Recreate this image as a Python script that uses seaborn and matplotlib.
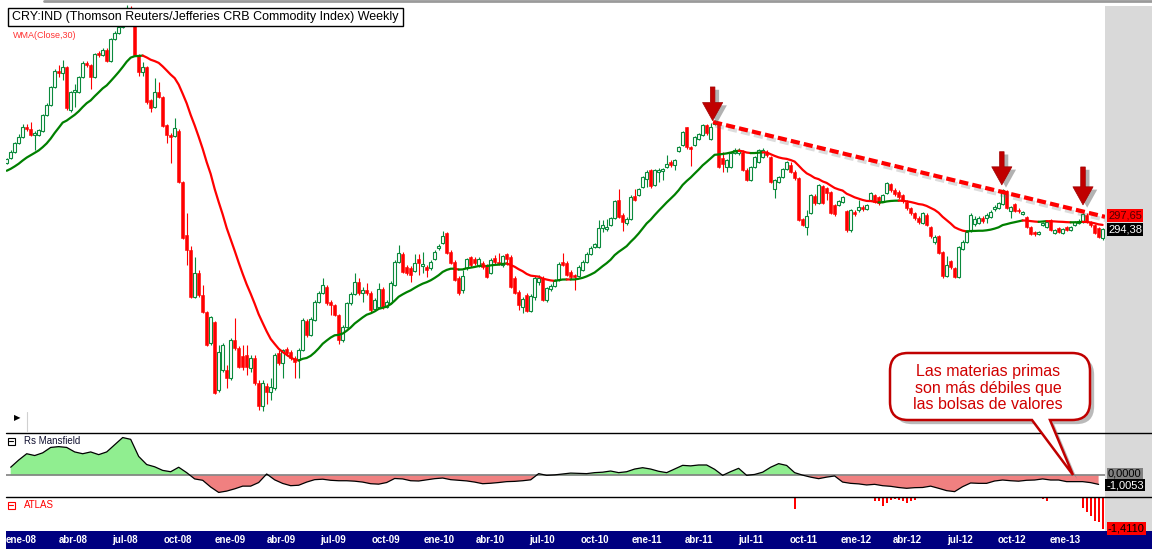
import numpy as np
import pandas as pd
import matplotlib
matplotlib.use("Agg")
import matplotlib.pyplot as plt
import matplotlib.dates as mdates
import matplotlib.patheffects as pe
from matplotlib.patches import Rectangle, PathPatch
from matplotlib.path import Path
from matplotlib.lines import Line2D
from matplotlib.ticker import NullLocator
import seaborn as sns

# ---------------------------------------------------------------- data
first_bar = "2007-12-07"          # weekly bars (Fridays)

# 29 weekly closes before the first bar (only used to seed the WMA(30))
pre_close = [310, 312, 315, 313, 316, 318, 320, 316, 312, 308,
             300, 298, 305, 310, 315, 320, 325, 330, 332, 335,
             338, 342, 345, 350, 355, 352, 348, 345, 342]

open_ = [
    338.9, 342.5, 346.9, 353.7, 358.2, 365.9, 364.4, 359.8, 359.8, 362.8,
    375.4, 383.5, 398.5, 412.3, 410.6, 415.9, 379.4, 394.2, 394.2, 407.0,
    419.4, 417.7, 407.0, 428.5, 426.7, 431.2, 421.2, 441.4, 447.1, 452.8,
    462.6, 471.6, 457.7, 426.7, 411.4, 415.9, 387.6, 381.9, 394.2, 390.1,
    367.5, 359.8, 359.0, 362.8, 325.4, 290.7, 281.6, 254.7, 268.1, 255.8,
    246.7, 230.9, 241.5, 208.9, 218.0, 218.0, 214.3, 232.4, 228.5, 224.6,
    225.0, 218.9, 223.6, 212.1, 201.7, 210.7, 208.0, 209.8, 226.0, 221.2,
    228.0, 226.5, 223.6, 222.6, 227.5, 242.0, 234.9, 242.5, 251.9, 256.8,
    260.2, 251.9, 250.4, 245.1, 232.4, 238.9, 251.4, 256.3, 263.0, 256.8,
    258.5, 256.8, 248.2, 249.3, 259.1, 249.3, 251.4, 261.3, 274.4, 279.2,
    271.5, 270.9, 269.2, 276.1, 272.1, 271.5, 270.9, 276.1, 282.8, 285.8,
    291.9, 280.4, 274.4, 265.2, 258.5, 270.9, 277.3, 276.1, 272.6, 273.8,
    272.6, 268.1, 276.7, 274.4, 272.6, 279.2, 277.3, 265.2, 257.4, 249.3,
    255.8, 247.2, 254.7, 263.0, 265.2, 253.0, 259.1, 260.7, 264.1, 274.4,
    273.8, 268.7, 267.0, 266.4, 269.8, 274.4, 279.2, 283.4, 283.4, 295.0,
    294.4, 296.9, 301.4, 313.2, 303.4, 298.2, 300.7, 315.9, 316.6, 322.0,
    327.5, 333.9, 323.4, 332.5, 333.2, 336.0, 339.6, 337.5, 347.7, 352.1,
    365.9, 350.6, 352.1, 356.7, 359.8, 367.5, 356.7, 368.3, 368.3, 342.5,
    336.0, 336.0, 346.2, 346.2, 346.9, 333.9, 326.8, 336.0, 339.6, 343.2,
    346.9, 343.2, 320.7, 325.4, 329.0, 334.6, 337.5, 332.5, 328.2, 300.7,
    295.6, 304.7, 315.9, 311.2, 322.7, 321.4, 318.6, 309.9, 309.9, 311.9,
    306.0, 293.8, 305.3, 306.6, 308.6, 307.3, 313.2, 316.6, 315.2, 312.5,
    318.0, 324.1, 320.0, 318.6, 316.6, 311.9, 307.9, 304.7, 301.4, 298.2,
    303.4, 295.6, 286.4, 290.1, 280.4, 266.4, 274.9, 270.9, 265.9, 282.2,
    286.4, 293.2, 297.5, 298.2, 301.4, 301.4, 302.0, 307.3, 307.9, 310.6,
    319.3, 306.0, 310.6, 306.6, 304.0, 302.0, 295.6, 292.6, 291.3, 296.9,
    295.6, 300.1, 291.9, 295.0, 291.9, 295.6, 293.8, 296.9, 298.2, 298.8,
    303.4, 298.8, 296.9, 295.0, 288.8]

high = [
    342.5, 348.4, 354.4, 360.5, 368.3, 368.3, 369.8, 362.8, 364.4, 376.2,
    385.1, 399.3, 414.1, 417.7, 422.1, 416.8, 395.1, 400.9, 407.9, 421.2,
    421.2, 418.5, 428.5, 430.3, 433.1, 433.1, 442.4, 449.0, 454.8, 465.6,
    474.7, 473.6, 461.6, 427.6, 420.3, 416.8, 388.4, 406.2, 402.7, 390.9,
    368.3, 361.3, 373.0, 364.4, 326.1, 304.7, 284.0, 277.3, 269.8, 261.3,
    247.2, 244.6, 242.0, 229.9, 230.9, 220.3, 233.4, 243.5, 229.5, 229.9,
    229.9, 225.0, 225.0, 213.4, 213.4, 212.1, 214.3, 226.0, 227.5, 228.0,
    229.0, 227.5, 224.6, 228.5, 243.5, 243.0, 244.1, 253.0, 257.9, 265.2,
    261.3, 253.0, 250.9, 245.6, 239.9, 251.9, 257.4, 268.1, 265.2, 260.2,
    262.4, 257.9, 254.1, 262.4, 260.2, 253.0, 263.5, 275.5, 284.6, 280.4,
    272.6, 272.1, 279.2, 279.2, 280.4, 272.6, 275.5, 281.6, 285.2, 293.2,
    292.6, 281.6, 275.5, 266.4, 269.8, 276.7, 277.9, 277.3, 277.3, 274.9,
    273.2, 276.7, 278.5, 279.8, 278.5, 279.8, 278.5, 266.4, 258.5, 254.7,
    256.8, 256.3, 266.4, 267.0, 266.4, 260.2, 261.8, 264.7, 274.4, 279.8,
    274.9, 269.8, 267.5, 272.6, 275.5, 280.4, 284.0, 285.8, 300.1, 300.1,
    300.7, 302.0, 313.2, 320.7, 304.7, 302.0, 316.6, 320.7, 321.4, 329.7,
    333.9, 334.6, 334.6, 335.3, 335.3, 344.7, 341.0, 341.7, 351.4, 362.8,
    365.9, 351.4, 359.0, 361.3, 368.3, 368.3, 369.0, 371.4, 369.0, 346.9,
    341.7, 346.9, 349.9, 349.9, 348.4, 335.3, 336.7, 344.0, 349.1, 349.9,
    348.4, 344.0, 327.5, 329.7, 335.3, 340.3, 339.6, 333.9, 329.0, 301.4,
    306.6, 317.3, 317.3, 324.1, 323.4, 322.0, 319.3, 310.6, 313.2, 315.9,
    306.6, 307.3, 306.6, 313.2, 309.9, 310.6, 318.6, 317.3, 315.9, 317.3,
    325.4, 324.8, 321.4, 320.0, 317.3, 313.2, 308.6, 305.3, 302.7, 305.3,
    304.7, 296.3, 290.7, 290.7, 281.0, 277.9, 275.5, 271.5, 284.0, 287.6,
    293.8, 304.7, 302.7, 302.7, 302.7, 304.7, 306.6, 309.9, 311.9, 320.7,
    320.0, 309.3, 311.2, 307.9, 306.0, 302.7, 296.3, 293.2, 293.2, 298.8,
    299.5, 300.7, 294.4, 295.6, 295.0, 296.3, 296.3, 299.5, 300.7, 304.7,
    304.7, 299.5, 297.5, 295.6, 295.0]

low = [
    338.2, 341.7, 346.2, 352.9, 357.4, 362.8, 359.0, 348.4, 359.0, 362.1,
    374.6, 382.7, 397.6, 407.0, 404.4, 379.4, 377.8, 381.9, 393.4, 406.2,
    415.9, 396.8, 406.2, 424.8, 425.7, 420.3, 420.3, 440.5, 446.1, 451.8,
    461.6, 457.7, 425.7, 407.9, 407.9, 384.3, 377.8, 381.0, 389.3, 365.9,
    353.7, 338.9, 358.2, 324.8, 288.2, 272.6, 254.1, 254.1, 254.7, 246.1,
    229.5, 229.9, 207.1, 208.0, 217.1, 209.8, 213.4, 227.5, 218.9, 218.0,
    215.7, 217.1, 211.2, 200.1, 199.7, 202.7, 204.4, 208.9, 220.3, 214.3,
    224.6, 222.6, 214.3, 214.3, 227.0, 233.9, 234.4, 242.0, 251.4, 256.3,
    250.4, 245.1, 244.6, 230.4, 231.4, 238.4, 250.4, 255.8, 255.8, 251.9,
    255.8, 246.1, 247.2, 248.8, 248.2, 248.8, 250.9, 260.7, 273.8, 268.1,
    267.0, 263.0, 268.7, 267.0, 268.1, 265.9, 269.8, 275.5, 281.6, 285.2,
    279.2, 273.2, 263.5, 255.8, 256.8, 269.8, 271.5, 272.6, 271.5, 270.4,
    265.2, 267.5, 273.2, 272.6, 271.5, 272.6, 259.6, 256.3, 247.7, 246.1,
    246.7, 246.7, 253.0, 261.3, 252.5, 251.9, 258.0, 260.2, 263.5, 272.1,
    266.4, 264.7, 258.5, 265.9, 269.2, 273.8, 278.5, 282.8, 282.8, 292.6,
    293.2, 296.3, 300.7, 301.4, 293.2, 296.9, 300.1, 312.5, 315.9, 321.4,
    322.0, 321.4, 322.7, 325.4, 326.8, 335.3, 336.0, 333.9, 346.9, 351.4,
    349.1, 336.7, 351.4, 355.9, 359.0, 359.8, 355.9, 367.5, 335.3, 332.5,
    332.5, 335.3, 345.4, 344.7, 333.2, 326.1, 326.1, 335.3, 338.9, 342.5,
    343.2, 324.8, 314.6, 324.8, 328.2, 333.9, 331.8, 326.8, 299.5, 296.3,
    290.7, 304.0, 309.9, 310.6, 310.6, 313.2, 304.0, 302.7, 309.3, 311.2,
    292.6, 292.6, 302.7, 305.3, 306.0, 306.6, 312.5, 311.2, 309.9, 311.9,
    317.3, 318.6, 315.9, 313.9, 311.2, 306.6, 303.4, 300.1, 297.5, 297.5,
    296.3, 288.8, 285.2, 279.2, 265.2, 265.9, 270.4, 265.2, 265.2, 281.6,
    285.8, 292.6, 296.3, 297.5, 298.2, 298.2, 301.4, 306.0, 307.3, 309.9,
    307.3, 301.4, 305.3, 304.7, 303.4, 295.0, 290.7, 290.1, 290.7, 296.3,
    295.0, 293.2, 291.3, 291.9, 291.3, 293.2, 293.2, 296.3, 297.5, 298.2,
    298.2, 295.6, 291.3, 288.8, 287.6]

close = [
    341.7, 346.9, 353.7, 358.2, 365.9, 364.4, 359.8, 361.3, 363.6, 375.4,
    383.5, 398.5, 412.3, 410.6, 415.9, 381.0, 394.2, 395.9, 407.0, 419.4,
    417.7, 407.0, 427.6, 426.7, 431.2, 421.2, 441.4, 447.1, 452.8, 462.6,
    471.6, 459.6, 426.7, 411.4, 415.9, 386.0, 381.0, 394.2, 390.1, 366.7,
    359.8, 358.2, 365.2, 325.4, 288.8, 281.6, 254.7, 268.1, 255.8, 246.7,
    229.9, 244.1, 207.6, 226.5, 229.9, 214.3, 232.4, 228.5, 219.4, 219.4,
    219.4, 223.6, 212.1, 201.7, 212.1, 208.0, 210.2, 225.0, 221.2, 227.5,
    226.0, 223.6, 221.7, 227.5, 242.5, 234.9, 243.0, 251.9, 256.8, 261.3,
    251.4, 250.4, 245.1, 232.4, 238.9, 251.4, 256.3, 263.0, 256.8, 258.5,
    256.8, 247.7, 253.0, 259.1, 249.3, 251.9, 262.4, 274.4, 279.8, 268.7,
    268.1, 267.0, 273.8, 273.8, 273.2, 269.8, 274.4, 280.4, 284.0, 290.1,
    279.8, 273.8, 264.1, 256.8, 266.4, 276.1, 272.6, 273.8, 276.1, 271.5,
    265.9, 275.5, 274.4, 273.2, 277.9, 276.1, 260.2, 256.8, 250.4, 253.5,
    247.2, 255.2, 265.2, 265.2, 253.0, 259.6, 260.7, 264.1, 273.2, 272.6,
    267.0, 265.9, 265.9, 271.5, 274.4, 279.2, 282.8, 285.2, 295.0, 296.9,
    295.6, 301.4, 312.5, 302.0, 298.8, 300.7, 315.2, 313.2, 320.7, 329.0,
    332.5, 322.7, 333.9, 333.9, 334.6, 338.2, 337.5, 341.0, 350.6, 362.1,
    350.6, 349.1, 358.2, 360.5, 367.5, 361.3, 365.9, 369.8, 336.0, 338.2,
    341.0, 346.2, 348.4, 348.4, 333.9, 326.8, 336.0, 343.2, 348.4, 348.4,
    344.7, 325.4, 326.8, 329.0, 334.6, 339.6, 332.5, 328.2, 300.1, 296.9,
    302.7, 316.6, 311.2, 323.4, 311.2, 318.0, 304.7, 304.0, 312.5, 315.2,
    293.8, 306.6, 304.0, 308.6, 307.3, 309.9, 318.0, 311.9, 311.2, 316.6,
    324.8, 320.0, 317.3, 315.2, 312.5, 307.9, 304.7, 301.4, 298.8, 304.7,
    296.9, 290.1, 289.5, 279.8, 266.4, 272.6, 271.5, 265.9, 283.4, 286.4,
    292.6, 303.4, 300.7, 301.4, 299.5, 303.4, 305.3, 308.6, 311.2, 320.0,
    307.9, 308.6, 306.0, 306.0, 305.3, 295.6, 291.3, 291.3, 292.6, 298.2,
    298.8, 293.8, 293.8, 292.6, 294.4, 293.8, 295.6, 298.8, 299.5, 304.0,
    298.8, 296.9, 291.9, 289.5, 294.38]

wma_last_value = 297.65

# Rs Mansfield, one reading every two weeks (bars 1, 3, 5, ...)
rs_values = [
    0.9, 1.7, 2.4, 2.2, 2.5, 3.1, 3.19, 3.1, 2.6, 2.4,
    2.6, 2.3, 2.6, 3.4, 4.2, 4.0, 2.1, 1.2, 0.95, 0.55,
    0.4, 0.9, 0.3, -0.4, -0.55, -1.3, -1.9, -1.75, -1.5, -1.2,
    -1.2, -0.8, 0.15, -0.5, -0.9, -1.15, -1.1, -0.75, -0.48, -0.43,
    -0.55, -0.6, -0.6, -0.65, -0.75, -0.93, -0.98, -0.8, -0.35, -0.4,
    -0.6, -0.63, -0.5, -0.37, -0.3, -0.48, -0.55, -0.62, -0.75, -0.93,
    -0.88, -0.8, -0.7, -0.67, -0.6, -0.5, 0.19, 0.0, 0.05, 0.15,
    0.25, 0.22, 0.19, 0.3, 0.35, 0.48, 0.3, 0.4, 0.7, 0.85,
    0.7, 0.45, 0.3, 0.7, 1.11, 1.05, 1.15, 1.15, 0.67, 0.0,
    0.41, 0.78, 0.0, 0.1, 0.35, 0.9, 1.3, 1.1, 0.3, 0.02,
    -0.2, -0.37, -0.2, -0.07, -0.75, -0.89, -0.95, -1.07, -1.0, -1.15,
    -1.22, -1.35, -1.44, -1.37, -1.35, -1.2, -1.44, -1.70, -1.81, -1.26,
    -0.85, -0.89, -0.89, -0.63, -0.52, -0.6, -0.65, -0.55, -0.52, -0.4,
    -0.52, -0.52, -0.70, -0.70, -0.70, -0.81, -1.0053]

# ATLAS (sparse: bar index -> value)
atlas_weeks = [115, 116, 117, 118, 119, 197,
               217, 218, 219, 220, 221, 222, 223, 224, 225, 226, 227,
               259, 260, 269, 270, 271, 272, 273, 274]
atlas_values = [-0.03, -0.03, -0.03, -0.03, -0.03, -0.53,
                -0.16, -0.16, -0.39, -0.24, -0.12, -0.09, -0.12, -0.16, -0.24, -0.16, -0.12,
                -0.07, -0.16, -0.46, -0.64, -0.83, -1.04, -1.12, -1.411]

month_names = {1: "ene", 4: "abr", 7: "jul", 10: "oct"}

# annotations (bar index, price)
trend_weeks = [176.6, 274.6]
trend_prices = [369.8, 302.1]
arrow_weeks = [176.5, 248.8, 269.1]
arrow_tips = [370.9, 323.4, 309.9]
arrow_tops = [398.5, 347.1, 336.0]

title = "CRY:IND (Thomson Reuters/Jefferies CRB Commodity Index) Weekly"
callout = "Las materias primas\nson más débiles que\nlas bolsas de valores"

# ---------------------------------------------------------------- style
sns.set_theme(style="white")
plt.rcParams["font.family"] = ["Liberation Sans", "DejaVu Sans"]

W, H = 1152, 549
fig = plt.figure(figsize=(W / 100, H / 100), dpi=100, facecolor="white")


def fx(x):
    return x / W


def fy(y):
    return 1 - y / H


L, R = 6, 1105
aw = (R - L) / W
ax_p = fig.add_axes([fx(L), fy(433.3), aw, 433.3 / H])
ax_rs = fig.add_axes([fx(L), fy(497.3), aw, (497.3 - 433.3) / H])
ax_at = fig.add_axes([fx(L), fy(531), aw, (531 - 497.3) / H])
ax_dt = fig.add_axes([fx(L), 0, aw, (549 - 531) / H])

dates = pd.date_range(first_bar, periods=len(close), freq="7D")
xnum = mdates.date2num(dates.to_pydatetime())
x0 = xnum[0]
xlim = (x0 - 0.175 * 7, x0 + 274.6 * 7)

GREEN = "#0a8a3c"
WGREEN = "#008000"
RED = "#ff0000"

# ---------------------------------------------------------------- price panel
ax_p.set_yscale("log")
o = np.array(open_)
c = np.array(close)
hi = np.maximum(np.array(high), np.maximum(o, c))
lo = np.minimum(np.array(low), np.minimum(o, c))
up = c >= o
blo = np.minimum(o, c)
bhi = np.maximum(o, c)

ax_p.vlines(xnum[up], lo[up], hi[up], color=GREEN, lw=0.8, zorder=2)
ax_p.vlines(xnum[~up], lo[~up], hi[~up], color=RED, lw=0.8, zorder=2)
ax_p.bar(xnum[up], bhi[up] - blo[up], bottom=blo[up], width=4.3,
         facecolor="white", edgecolor=GREEN, linewidth=0.8, zorder=3)
ax_p.bar(xnum[~up], bhi[~up] - blo[~up], bottom=blo[~up], width=5.2,
         facecolor=RED, edgecolor=RED, linewidth=0.4, zorder=3)

# WMA(Close,30)
allc = np.array(pre_close + close, dtype=float)
wts = np.arange(1, 31, dtype=float)
wma = np.array([np.dot(allc[k:k + 30], wts) / wts.sum() for k in range(len(close))])
seg_up = np.diff(wma) >= 0
start = 0
for i in range(1, len(seg_up) + 1):
    if i == len(seg_up) or seg_up[i] != seg_up[start]:
        idx = np.arange(start, i + 1)
        sns.lineplot(x=xnum[idx], y=wma[idx], ax=ax_p,
                     color=WGREEN if seg_up[start] else RED, lw=1.6, zorder=4)
        start = i

# dashed trend line
tx = x0 + 7 * np.array(trend_weeks)
ax_p.plot(tx, trend_prices, color=RED, lw=3, dashes=(2.2, 1.0),
          dash_capstyle="butt", zorder=6,
          path_effects=[pe.SimpleLineShadow(offset=(1.5, -2.5), shadow_color="#606060",
                                            alpha=0.22), pe.Normal()])

# arrows
for w, tip, top in zip(arrow_weeks, arrow_tips, arrow_tops):
    xa = x0 + 7 * w
    ax_p.annotate("", xy=(xa, tip), xytext=(xa, top), zorder=7,
                  arrowprops=dict(arrowstyle="simple,head_length=1.3,head_width=1.45,tail_width=0.33",
                                  mutation_scale=10, fc="#c00000", ec="#a00000", lw=0.5,
                                  shrinkA=0, shrinkB=0,
                                  path_effects=[pe.SimplePatchShadow(offset=(3, -2),
                                                                     shadow_rgbFace="#555555",
                                                                     alpha=0.45),
                                                pe.Normal()]))

ax_p.set_ylim(190.4, 479.7)

# ---------------------------------------------------------------- Rs Mansfield
rs = np.array(rs_values)
rs_x = xnum[1::2][:len(rs)]
ax_rs.fill_between(rs_x, rs, 0, where=rs >= 0, interpolate=True, color="#90ee90", lw=0)
ax_rs.fill_between(rs_x, rs, 0, where=rs <= 0, interpolate=True, color="#f08080", lw=0)
ax_rs.axhline(0, color="#808080", lw=1.2, zorder=2)
sns.lineplot(x=rs_x, y=rs, ax=ax_rs, color="black", lw=0.9, zorder=3)
ax_rs.set_ylim(-2.44, 4.67)

# ---------------------------------------------------------------- ATLAS
ax_at.bar(xnum[np.array(atlas_weeks)], atlas_values, width=3.2, color=RED, lw=0)
ax_at.set_ylim(-1.498, 0)

# ---------------------------------------------------------------- date bar
ax_dt.set_facecolor("#000080")
for d in pd.date_range("2008-01-01", "2013-01-01", freq="QS"):
    ax_dt.text(mdates.date2num(d.to_pydatetime()), 0.5,
               f"{month_names[d.month]}-{d.year % 100:02d}",
               transform=ax_dt.get_xaxis_transform(), ha="center", va="center",
               color="white", fontsize=7, fontweight="bold")

for ax in (ax_p, ax_rs, ax_at, ax_dt):
    ax.set_xlim(xlim)
    ax.set_xticks([])
    ax.set_yticks([])
    ax.yaxis.set_minor_locator(NullLocator())
    ax.xaxis.set_minor_locator(NullLocator())
    ax.set_xlabel("")
    ax.set_ylabel("")
    for s in ax.spines.values():
        s.set_visible(False)

# ---------------------------------------------------------------- frame pieces
fig.add_artist(Rectangle((fx(1105), 0), 1 - fx(1105), 18 / H, transform=fig.transFigure,
                         fc="#000080", ec="none", zorder=1))
fig.add_artist(Rectangle((fx(1105), fy(531)), 1 - fx(1105), (531 - 6) / H,
                         transform=fig.transFigure, fc="#d9d9d9", ec="none", zorder=1))
for yy in (433.3, 497.3):
    fig.add_artist(Line2D([fx(6), 1.0], [fy(yy)] * 2, transform=fig.transFigure,
                          color="black", lw=1.0, zorder=2))
fig.add_artist(Line2D([fx(44), 1.0], [fy(1)] * 2, transform=fig.transFigure,
                      color="#9a9a9a", lw=2, zorder=2))

# title box
fig.add_artist(Rectangle((fx(8), fy(26)), (403 - 8) / W, 18 / H, transform=fig.transFigure,
                         fc="white", ec="black", lw=1.0, zorder=5))
fig.text(fx(12), fy(17), title, ha="left", va="center", fontsize=9, color="black", zorder=6)
fig.text(fx(13), fy(35.5), "WMA(Close,30)", ha="left", va="center", fontsize=6.5,
         color="#ff3333", zorder=6)

# panel headers
for y0, col, name in ((441, "black", "Rs Mansfield"), (505, RED, "ATLAS")):
    fig.add_artist(Rectangle((fx(7.5), fy(y0 + 3.5)), 7 / W, 7 / H, transform=fig.transFigure,
                             fc="white", ec=col, lw=0.8, zorder=5))
    fig.add_artist(Line2D([fx(9.2), fx(12.8)], [fy(y0)] * 2, transform=fig.transFigure,
                          color=col, lw=0.8, zorder=6))
    fig.text(fx(24), fy(y0), name, ha="left", va="center", fontsize=7,
             color="#101030" if col == "black" else col, zorder=6)

fig.text(fx(17), fy(418), "▶", ha="center", va="center", fontsize=6, color="black",
         family=["DejaVu Sans"], zorder=6)
fig.add_artist(Line2D([fx(26.5)] * 2, [fy(412), fy(431)], transform=fig.transFigure,
                      color="#d0d0d0", lw=0.8, zorder=2))


# right-hand value labels
def value_label(x, y, s, fc, tc, z):
    fig.text(fx(x), fy(y), s, ha="left", va="center", fontsize=8, color=tc, zorder=z,
             bbox=dict(boxstyle="square,pad=0.12", fc=fc, ec="none"))


def fmt(v, n):
    return f"{v:.{n}f}".replace(".", ",")


value_label(1108, 215.5, fmt(wma_last_value, 2), RED, "#500000", 6)
value_label(1108, 229.5, fmt(close[-1], 2), "black", "white", 7)
value_label(1108, 474.0, fmt(0.0, 4), "#808080", "black", 6)
value_label(1106.5, 485.0, fmt(rs_values[-1], 4), "black", "white", 7)
value_label(1108, 528.5, fmt(atlas_values[-1], 4), RED, "black", 8)

# ---------------------------------------------------------------- callout
bl, br, bt, bb, r = 890, 1090, 353, 420, 18
b1, b2, tipx, tipy = 1032, 1050, 1073, 475
pts = [(bl + r, bt), (br - r, bt), (br, bt), (br, bt + r), (br, bb - r), (br, bb),
       (br - r, bb), (b2, bb), (tipx, tipy), (b1, bb), (bl + r, bb), (bl, bb),
       (bl, bb - r), (bl, bt + r), (bl, bt), (bl + r, bt), (bl + r, bt)]
codes = [Path.MOVETO, Path.LINETO, Path.CURVE3, Path.CURVE3, Path.LINETO, Path.CURVE3,
         Path.CURVE3, Path.LINETO, Path.LINETO, Path.LINETO, Path.LINETO, Path.CURVE3,
         Path.CURVE3, Path.LINETO, Path.CURVE3, Path.CURVE3, Path.CLOSEPOLY]
cpath = Path([(fx(px), fy(py)) for px, py in pts], codes)
fig.add_artist(PathPatch(cpath, transform=fig.transFigure, fc="white", ec="#c00000", lw=1.8,
                         zorder=10,
                         path_effects=[pe.SimplePatchShadow(offset=(3, -3),
                                                            shadow_rgbFace="#777777",
                                                            alpha=0.5), pe.Normal()]))
fig.text(fx(988), fy(388), callout, ha="center", va="center", fontsize=11.5,
         color="#d00000", linespacing=1.1, zorder=11)

fig.savefig("out.png", dpi=100, facecolor="white")
